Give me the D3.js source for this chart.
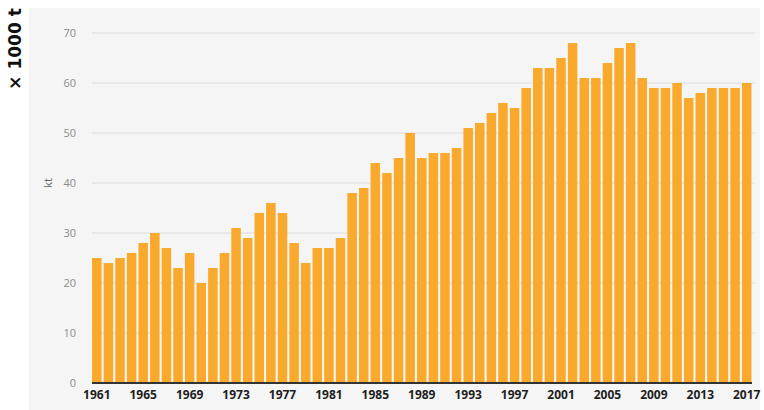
<!DOCTYPE html>
<html>
<head>
<meta charset="utf-8">
<script src="https://cdn.jsdelivr.net/npm/d3@7"></script>
<style>
  html, body { margin: 0; padding: 0; background: #ffffff; }
  svg { display: block; }
</style>
</head>
<body>
<svg id="chart" width="764" height="410"></svg>
<script>
// Annual production, thousand tonnes (kt), 1961–2017
const years = d3.range(1961, 2018);
const values = [
  25, 24, 25, 26, 28, 30, 27, 23, 26, 20,
  23, 26, 31, 29, 34, 36, 34, 28, 24, 27,
  27, 29, 38, 39, 44, 42, 45, 50, 45, 46,
  46, 47, 51, 52, 54, 56, 55, 59, 63, 63,
  65, 68, 61, 61, 64, 67, 68, 61, 59, 59,
  60, 57, 58, 59, 59, 59, 60
];
const yTicks = [0, 10, 20, 30, 40, 50, 60, 70];
const xTickLabels = [1961, 1965, 1969, 1973, 1977, 1981, 1985, 1989, 1993,
                     1997, 2001, 2005, 2009, 2013, 2017];

const svg = d3.select("#chart");

// panel background
svg.append("rect")
  .attr("x", 29).attr("y", 8)
  .attr("width", 731).attr("height", 402)
  .attr("fill", "#f5f5f5");

const x = d3.scaleBand()
  .domain(years)
  .range([91, 752.5])
  .paddingInner(0.18)
  .paddingOuter(0.09);

const y = d3.scaleLinear()
  .domain([0, 70])
  .range([383, 33]);

// horizontal grid lines
svg.append("g")
  .selectAll("line")
  .data(yTicks.filter(d => d > 0))
  .join("line")
  .attr("x1", 92).attr("x2", 755)
  .attr("y1", d => y(d)).attr("y2", d => y(d))
  .attr("stroke", "#dcdcdc")
  .attr("stroke-width", 1);

// y tick labels
svg.append("g")
  .selectAll("text")
  .data(yTicks)
  .join("text")
  .attr("x", 76)
  .attr("y", d => y(d))
  .attr("dy", "0.35em")
  .attr("text-anchor", "end")
  .attr("font-family", "'Open Sans', 'DejaVu Sans', sans-serif")
  .attr("font-size", 11)
  .attr("fill", "#8a8a8a")
  .text(d => d);

// bars
svg.append("g")
  .selectAll("rect")
  .data(years.map((yr, i) => ({ yr, v: values[i] })))
  .join("rect")
  .attr("x", d => x(d.yr))
  .attr("width", x.bandwidth())
  .attr("y", d => y(d.v))
  .attr("height", d => y(0) - y(d.v))
  .attr("fill", "#f9a92c");

// baseline
svg.append("line")
  .attr("x1", 92).attr("x2", 752)
  .attr("y1", y(0)).attr("y2", y(0))
  .attr("stroke", "#333333")
  .attr("stroke-width", 2);

// x axis labels
const xAxis = d3.axisBottom(x)
  .tickValues(xTickLabels)
  .tickSize(0)
  .tickPadding(0);
const gx = svg.append("g")
  .attr("transform", `translate(0, ${y(0) + 7})`)
  .call(xAxis);
gx.select(".domain").remove();
gx.selectAll("text")
  .attr("font-family", "'Open Sans', 'DejaVu Sans', sans-serif")
  .attr("font-size", 12)
  .attr("font-weight", "bold")
  .attr("fill", "#1e1e1e");

// unit label beside axis
svg.append("text")
  .attr("transform", "translate(52, 183) rotate(-90)")
  .attr("text-anchor", "middle")
  .attr("font-family", "'Open Sans', 'DejaVu Sans', sans-serif")
  .attr("font-size", 11)
  .attr("fill", "#666666")
  .text("kt");

// scale note
svg.append("text")
  .attr("transform", "translate(21, 49) rotate(-90)")
  .attr("text-anchor", "middle")
  .attr("font-family", "'DejaVu Sans', sans-serif")
  .attr("font-size", 17)
  .attr("font-weight", "bold")
  .attr("fill", "#111111")
  .text("× 1000 t");
</script>
</body>
</html>
